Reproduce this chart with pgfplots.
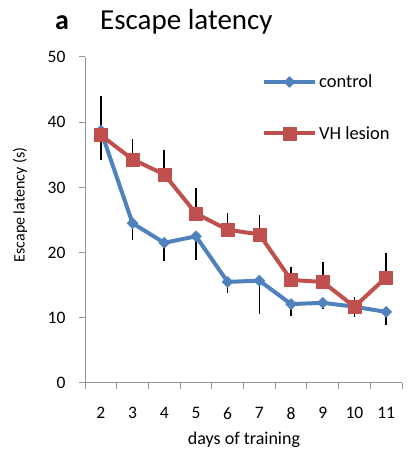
\documentclass[border=0pt]{standalone}
\usepackage{fontspec}
\setmainfont{Carlito}
\usepackage{pgfplots}
\usepackage{pgfplotstable}
\pgfplotsset{compat=1.18}

\definecolor{ctrlblue}{RGB}{79,129,189}
\definecolor{lesionred}{RGB}{192,80,77}
\definecolor{axisgray}{RGB}{150,150,150}

% mean escape latency (s) and error per training day
\pgfplotstableread{
day mean sem
2  38.7 4.5
3  24.5 2.6
4  21.5 2.8
5  22.5 3.6
6  15.5 1.7
7  15.7 5.1
8  12.1 1.9
9  12.3 1.0
10 11.7 1.6
11 10.9 2.0
}\controldata
\pgfplotstableread{
day mean sem
2  38.0 6.0
3  34.3 3.1
4  32.0 3.7
5  26.0 3.9
6  23.5 2.5
7  22.8 2.9
8  15.8 2.0
9  15.5 3.1
10 11.7 1.5
11 16.2 3.7
}\lesiondata

\begin{document}
\begin{tikzpicture}[x=1bp,y=1bp]
\useasboundingbox (0,0) rectangle (407,452);
\begin{axis}[
  at={(85bp,69bp)}, anchor=south west,
  scale only axis, width=317bp, height=326bp,
  xmin=1.5, xmax=11.5, ymin=0, ymax=50,
  axis x line*=bottom, axis y line*=left,
  axis line style={axisgray, line width=1bp, -},
  xtick={2,...,11}, minor xtick={1.5,2.5,...,11.5},
  ytick={0,10,...,50},
  major x tick style={draw=none},
  minor tick style={axisgray, line width=1bp},
  major y tick style={axisgray, line width=1bp},
  tick align=outside,
  major tick length=6bp, minor tick length=6bp,
  /pgf/number format/assume math mode=true,
  tick label style={font=\fontsize{17.5bp}{20bp}\selectfont, text=black},
  xticklabel style={yshift=-15bp},
  yticklabel style={xshift=-10bp},
  xlabel={days of training},
  xlabel style={font=\fontsize{18bp}{21bp}\selectfont, at={(axis description cs:0.5016,0)}, anchor=base, yshift=-61bp},
  ylabel={Escape latency (s)},
  ylabel style={font=\fontsize{16bp}{19bp}\selectfont, at={(axis description cs:-0.205,0.546)}, anchor=center},
  legend style={draw=none, fill=none, inner sep=0pt, at={(axis description cs:0.558,0.952)}, anchor=north west,
    font=\fontsize{18.5bp}{22bp}\selectfont, row sep=33bp, cells={anchor=west}},
  legend image code/.code={
    \draw[mark repeat=2, mark phase=2] plot coordinates {(0bp,0bp) (25.5bp,0bp) (51bp,0bp)};},
  clip=false,
]
% error bars first, so that lines and markers sit on top of them
\addplot[draw=none, mark=none, forget plot,
  error bars/.cd, y dir=minus, y explicit,
  error mark=none, error bar style={black, line width=1.6bp}]
  table[x=day, y=mean, y error=sem] {\controldata};
\addplot[draw=none, mark=none, forget plot,
  error bars/.cd, y dir=plus, y explicit,
  error mark=none, error bar style={black, line width=1.6bp}]
  table[x=day, y=mean, y error=sem] {\lesiondata};
% control
\addplot[ctrlblue, line width=4bp, line join=round,
  mark=square*, mark size=3.9bp, mark options={rotate=45, solid, line width=0.5bp, fill=ctrlblue}]
  table[x=day, y=mean] {\controldata};
\addlegendentry{control}
% VH lesion
\addplot[lesionred, line width=4bp, line join=round,
  mark=square*, mark size=6.5bp, mark options={solid, line width=0.5bp, fill=lesionred}]
  table[x=day, y=mean] {\lesiondata};
\addlegendentry{VH lesion}
\end{axis}
\node[anchor=base west, font=\fontsize{28bp}{32bp}\selectfont\bfseries, inner sep=0] at (55,422.7) {a};
\node[anchor=base west, font=\fontsize{29bp}{33bp}\selectfont, inner sep=0] at (100,422.7) {Escape latency};
\end{tikzpicture}
\end{document}
